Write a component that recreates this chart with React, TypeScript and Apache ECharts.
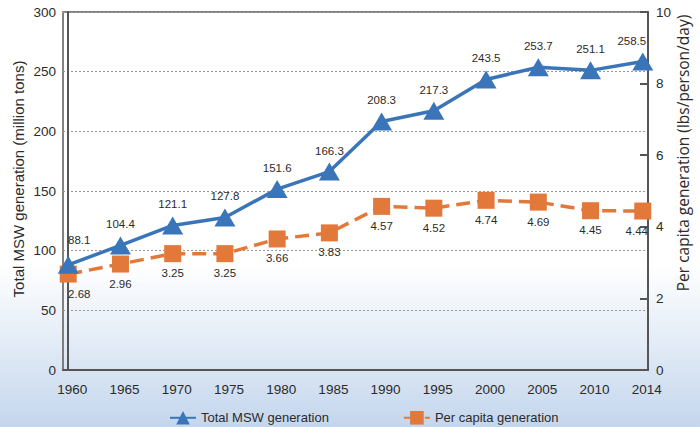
import React, { useEffect, useRef } from "react";
import * as echarts from "echarts";

const years = ["1960", "1965", "1970", "1975", "1980", "1985", "1990", "1995", "2000", "2005", "2010", "2014"];
const totalMSW = [88.1, 104.4, 121.1, 127.8, 151.6, 166.3, 208.3, 217.3, 243.5, 253.7, 251.1, 258.5];
const perCapita = [2.68, 2.96, 3.25, 3.25, 3.66, 3.83, 4.57, 4.52, 4.74, 4.69, 4.45, 4.44];
const leftTicks = [0, 50, 100, 150, 200, 250, 300];
const rightTicks = [0, 2, 4, 6, 8, 10];

const FONT = "'Liberation Sans', Arial, sans-serif";
const BLUE = "#3a75ba";
const ORANGE = "#e2783a";
const TEXT = "#2b2b2b";

export default function App() {
  const ref = useRef<HTMLDivElement>(null);
  useEffect(() => {
    if (!ref.current) return;
    const chart = echarts.init(ref.current, undefined, { renderer: "svg" });
    const idx = years.map((_, i) => i);
    const last = years.length - 1;
    const totalOffsets: Record<number, number[]> = { 0: [11, -4], [last]: [-11, 0] };
    const perOffsets: Record<number, number[]> = { 0: [11, 0], [last]: [-6, 0] };
    chart.setOption({
      animation: false,
      backgroundColor: new echarts.graphic.LinearGradient(0, 0, 0, 1, [
        { offset: 0, color: "#ffffff" },
        { offset: 0.62, color: "#ffffff" },
        { offset: 1, color: "#c4d6ed" },
      ]),
      textStyle: { fontFamily: FONT },
      grid: {
        left: 63,
        right: 52,
        top: 12,
        bottom: 57,
        show: true,
        borderColor: "#5a5a5a",
        borderWidth: 1.5,
        backgroundColor: "transparent",
      },
      legend: {
        top: 406,
        left: 164,
        itemWidth: 26,
        itemHeight: 17,
        itemGap: 74,
        textStyle: { fontSize: 13, color: TEXT, fontFamily: FONT },
        data: ["Total MSW generation", "Per capita generation"],
      },
      xAxis: {
        type: "value",
        min: -0.1,
        max: 11.1,
        axisLine: { show: true, lineStyle: { color: "#555", width: 2 } },
        axisTick: { show: false, customValues: idx },
        splitLine: { show: false },
        axisLabel: {
          customValues: idx,
          formatter: (v: number) => years[Math.round(v)],
          fontSize: 13.5,
          color: TEXT,
          margin: 12,
          padding: [0, 0, 0, 8],
          fontFamily: FONT,
        },
      },
      yAxis: [
        {
          type: "value",
          min: leftTicks[0],
          max: leftTicks[leftTicks.length - 1],
          interval: 50,
          axisLine: { show: true, lineStyle: { color: "#555", width: 2 } },
          axisTick: { show: false },
          axisLabel: { fontSize: 13.5, color: TEXT, margin: 7, fontFamily: FONT },
          splitLine: { show: true, lineStyle: { color: "#9a9a9a", type: [2, 2], width: 1 } },
        },
        {
          type: "value",
          position: "right",
          min: rightTicks[0],
          max: rightTicks[rightTicks.length - 1],
          interval: 2,
          axisLine: { show: true, lineStyle: { color: "#555", width: 2 } },
          axisTick: { show: true, inside: true, length: 8, lineStyle: { color: "#555", width: 2 } },
          axisLabel: { fontSize: 13.5, color: TEXT, margin: 8, fontFamily: FONT },
          splitLine: { show: false },
        },
      ],
      graphic: [
        {
          type: "text",
          x: 18,
          y: 179,
          rotation: Math.PI / 2,
          style: {
            text: "Total MSW generation (million tons)",
            fontSize: 15,
            fontFamily: FONT,
            fill: TEXT,
            align: "center",
            verticalAlign: "middle",
          },
        },
        {
          type: "text",
          x: 683,
          y: 153,
          rotation: Math.PI / 2,
          style: {
            text: "Per capita generation (lbs/person/day)",
            fontSize: 15.5,
            fontFamily: "'Open Sans', 'Noto Sans', sans-serif",
            fill: TEXT,
            align: "center",
            verticalAlign: "middle",
          },
        },
      ],
      series: [
        {
          name: "Per capita generation",
          type: "line",
          yAxisIndex: 1,
          data: perCapita.map((v, i) => (perOffsets[i] ? { value: [i, v], label: { offset: perOffsets[i] } } : [i, v])),
          symbol: "rect",
          symbolSize: 17,
          itemStyle: { color: ORANGE },
          lineStyle: { color: ORANGE, width: 3.5, type: [14, 7] },
          label: {
            show: true,
            position: "bottom",
            distance: 5,
            fontSize: 11.5,
            color: TEXT,
            fontFamily: FONT,
            formatter: (p: any) => p.value[1].toFixed(2),
          },
          z: 2,
        },
        {
          name: "Total MSW generation",
          type: "line",
          yAxisIndex: 0,
          data: totalMSW.map((v, i) => (totalOffsets[i] ? { value: [i, v], label: { offset: totalOffsets[i] } } : [i, v])),
          symbol: "triangle",
          symbolSize: [21, 18],
          itemStyle: { color: BLUE },
          lineStyle: { color: BLUE, width: 3.5 },
          label: {
            show: true,
            position: "top",
            distance: 6,
            fontSize: 11.5,
            color: TEXT,
            fontFamily: FONT,
            formatter: (p: any) => p.value[1].toFixed(1),
          },
          z: 3,
        },
      ],
    });
    return () => chart.dispose();
  }, []);
  return <div ref={ref} style={{ position: "fixed", left: 0, top: 0, width: 700, height: 427 }} />;
}
